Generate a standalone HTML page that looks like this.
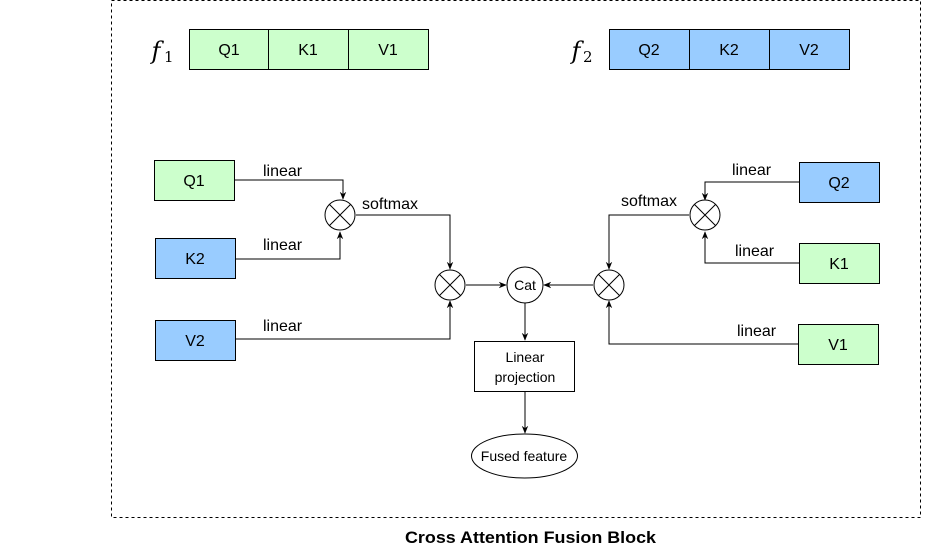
<!DOCTYPE html>
<html><head><style>body{margin:0;background:#fff}svg{display:block}</style></head><body>
<svg width="931" height="553" viewBox="0 0 931 553" xmlns="http://www.w3.org/2000/svg" font-family="Liberation Sans, Arial, sans-serif">
<defs><marker id="a" viewBox="0 0 10 10" refX="9" refY="5" markerWidth="8" markerHeight="8" orient="auto" markerUnits="userSpaceOnUse"><path d="M0,1 L10,5 L0,9 L3,5 Z" fill="#000"/></marker></defs>
<rect x="111.5" y="0.5" width="809" height="517" fill="none" stroke="#000" stroke-dasharray="3,3"/>
<text x="405" y="543" textLength="251" lengthAdjust="spacingAndGlyphs" font-weight="bold" font-size="17">Cross Attention Fusion Block</text>
<g font-size="16" text-anchor="middle">
<text x="156" y="59" font-family="DejaVu Serif, serif" font-style="italic" font-size="24">f</text><text x="164" y="62" font-family="DejaVu Serif, serif" font-size="15" text-anchor="start">1</text>
<rect x="189.5" y="29.5" width="79" height="40" fill="#ccffcc" stroke="#000"/><text x="229" y="55">Q1</text>
<rect x="268.5" y="29.5" width="80" height="40" fill="#ccffcc" stroke="#000"/><text x="308" y="55">K1</text>
<rect x="348.5" y="29.5" width="80" height="40" fill="#ccffcc" stroke="#000"/><text x="388" y="55">V1</text>
<text x="576" y="59" font-family="DejaVu Serif, serif" font-style="italic" font-size="24">f</text><text x="583" y="62" font-family="DejaVu Serif, serif" font-size="15" text-anchor="start">2</text>
<rect x="609.5" y="29.5" width="80" height="40" fill="#99ccff" stroke="#000"/><text x="649" y="55">Q2</text>
<rect x="689.5" y="29.5" width="80" height="40" fill="#99ccff" stroke="#000"/><text x="729" y="55">K2</text>
<rect x="769.5" y="29.5" width="80" height="40" fill="#99ccff" stroke="#000"/><text x="809" y="55">V2</text>

<rect x="154.5" y="160.5" width="80" height="40" fill="#ccffcc" stroke="#000"/><text x="194" y="186">Q1</text>
<rect x="155.5" y="238.5" width="80" height="40" fill="#99ccff" stroke="#000"/><text x="195" y="264">K2</text>
<rect x="155.5" y="320.5" width="80" height="40" fill="#99ccff" stroke="#000"/><text x="195" y="346">V2</text>
<rect x="799.5" y="162.5" width="80" height="40" fill="#99ccff" stroke="#000"/><text x="839" y="188">Q2</text>
<rect x="799.5" y="243.5" width="80" height="40" fill="#ccffcc" stroke="#000"/><text x="839" y="269">K1</text>
<rect x="798.5" y="324.5" width="80" height="40" fill="#ccffcc" stroke="#000"/><text x="838" y="350">V1</text>
</g>
<g font-size="16">
<text x="263" y="176">linear</text><text x="263" y="250">linear</text><text x="263" y="331">linear</text>
<text x="362" y="209">softmax</text>
<text x="732" y="175">linear</text><text x="735" y="256">linear</text><text x="737" y="336">linear</text>
<text x="621" y="206">softmax</text>
</g>
<g fill="none" stroke="#000" stroke-width="1">
<path d="M235,180 H343 V199" marker-end="url(#a)"/>
<path d="M236,259 H340 V232" marker-end="url(#a)"/>
<path d="M356,215 H450 V269" marker-end="url(#a)"/>
<path d="M236,339 H450 V301" marker-end="url(#a)"/>
<path d="M466,285 H506" marker-end="url(#a)"/>
<path d="M593,285 H544" marker-end="url(#a)"/>
<path d="M799,182 H705 V200" marker-end="url(#a)"/>
<path d="M799,263 H705 V232" marker-end="url(#a)"/>
<path d="M689,215 H609 V269" marker-end="url(#a)"/>
<path d="M798,344 H609 V301" marker-end="url(#a)"/>
<path d="M525,303 V340" marker-end="url(#a)"/>
<path d="M525,392 V433" marker-end="url(#a)"/>
<g fill="#fff">
<circle cx="340" cy="215" r="15"/><circle cx="450" cy="285" r="15"/><circle cx="609" cy="285" r="15"/><circle cx="705" cy="215" r="15"/>
<circle cx="525" cy="285" r="18"/>
<rect x="474.5" y="341.5" width="100" height="50"/>
<ellipse cx="524.5" cy="456" rx="53" ry="22"/>
</g>
<path d="M329.4,204.4 L350.6,225.6 M350.6,204.4 L329.4,225.6 M439.4,274.4 L460.6,295.6 M460.6,274.4 L439.4,295.6 M598.4,274.4 L619.6,295.6 M619.6,274.4 L598.4,295.6 M694.4,204.4 L715.6,225.6 M715.6,204.4 L694.4,225.6"/>
</g>
<g font-size="14" text-anchor="middle">
<text x="525" y="290">Cat</text>
<text x="525" y="362">Linear</text><text x="525" y="382">projection</text>
<text x="524" y="461">Fused feature</text>
</g>
</svg>
</body></html>
